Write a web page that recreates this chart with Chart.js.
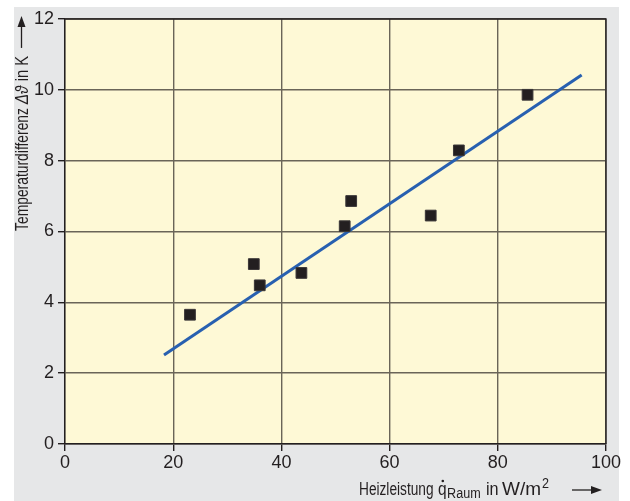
<!DOCTYPE html>
<html>
<head>
<meta charset="utf-8">
<script src="https://cdn.jsdelivr.net/npm/chart.js@4"></script>
<style>
  body { margin: 0; background: #ffffff; }
  canvas { display: block; }
</style>
</head>
<body>
<canvas id="myChart" width="630" height="501"></canvas>
<script>
// measured values (Heizleistung in W/m2, Temperaturdifferenz in K)
const heizleistung = [23.1, 34.9, 36.0, 43.7, 51.7, 52.9, 67.6, 72.8, 85.5]
const tempDiff = [3.65, 5.08, 4.48, 4.83, 6.15, 6.86, 6.45, 8.29, 9.86]

// regression line end points
const fitX = [18.3, 95.5]
const fitY = [2.51, 10.42]

const xTicks = [0, 20, 40, 60, 80, 100]
const yTicks = [0, 2, 4, 6, 8, 10, 12]

const FONT = '"Liberation Sans", Arial, sans-serif'
const TEXT = '#231f20'
const GRID = '#6a6558'

const arrow = (ctx, x1, y1, x2, y2) => {
  const ang = Math.atan2(y2 - y1, x2 - x1)
  const len = 11
  const w = 4
  ctx.beginPath()
  ctx.moveTo(x1, y1)
  ctx.lineTo(x2 - Math.cos(ang) * len, y2 - Math.sin(ang) * len)
  ctx.stroke()
  ctx.beginPath()
  ctx.moveTo(x2, y2)
  ctx.lineTo(x2 - Math.cos(ang) * len - Math.sin(ang) * w, y2 - Math.sin(ang) * len + Math.cos(ang) * w)
  ctx.lineTo(x2 - Math.cos(ang) * len + Math.sin(ang) * w, y2 - Math.sin(ang) * len - Math.cos(ang) * w)
  ctx.closePath()
  ctx.fill()
}

// draws horizontally squeezed text (fake condensed type), returns its drawn width
const text = (ctx, str, x, y, font, squeeze = 0.84) => {
  ctx.save()
  ctx.font = font
  ctx.translate(x, y)
  ctx.scale(squeeze, 1)
  ctx.fillText(str, 0, 0)
  const w = ctx.measureText(str).width * squeeze
  ctx.restore()
  return w
}

const backgrounds = {
  id: 'backgrounds',
  beforeDraw(chart) {
    const { ctx, chartArea } = chart
    ctx.save()
    ctx.fillStyle = '#ffffff'
    ctx.fillRect(0, 0, chart.width, chart.height)
    ctx.fillStyle = '#e6e7e8'
    ctx.fillRect(14, 7, 605, chart.height - 7)
    ctx.fillStyle = '#fef9d6'
    ctx.fillRect(chartArea.left, chartArea.top, chartArea.right - chartArea.left, chartArea.bottom - chartArea.top)
    ctx.restore()
  },
}

const titles = {
  id: 'titles',
  afterDatasetsDraw(chart) {
    const { ctx, chartArea } = chart
    ctx.save()
    ctx.fillStyle = TEXT
    ctx.strokeStyle = TEXT
    ctx.lineWidth = 1.3
    ctx.textBaseline = 'alphabetic'
    ctx.textAlign = 'left'

    // frame on top and right
    ctx.beginPath()
    ctx.moveTo(chartArea.left, chartArea.top)
    ctx.lineTo(chartArea.right, chartArea.top)
    ctx.lineTo(chartArea.right, chartArea.bottom)
    ctx.stroke()

    // x axis title, pieces placed where they sit in the original
    const base = 495
    const big = '18px ' + FONT
    const small = '14px ' + FONT
    text(ctx, 'Heizleistung', 359, base, big, 0.76)
    const qw = text(ctx, 'q', 438, base, big, 0.86)
    ctx.beginPath()
    ctx.arc(438 + qw / 2 + 0.5, base - 14, 1.3, 0, Math.PI * 2)
    ctx.fill()
    text(ctx, 'Raum', 438 + qw + 0.5, base + 3, small, 0.9)
    text(ctx, 'in', 486, base, big, 0.9)
    const wm = text(ctx, 'W/m', 502, base, '19px ' + FONT, 1)
    text(ctx, '2', 502 + wm + 1, base - 7, small, 0.9)
    arrow(ctx, 572, base - 5, 602, base - 5)

    // y axis title, reads bottom to top
    ctx.translate(28, 231)
    ctx.rotate(-Math.PI / 2)
    let y = 0
    y += text(ctx, 'Temperaturdifferenz ', y, 0, '18px ' + FONT, 0.77)
    y += text(ctx, '\u0394\u03d1', y, 0, 'italic 18px ' + FONT, 0.85)
    y += text(ctx, ' in K', y, 0, '18px ' + FONT, 0.82)
    arrow(ctx, y + 8, -6.5, 215, -6.5)
    ctx.restore()
  },
}

const ctx = document.getElementById('myChart').getContext('2d')

const config = {
  data: {
    datasets: [
      {
        type: 'scatter',
        data: heizleistung.map((v, i) => ({ x: v, y: tempDiff[i] })),
        pointStyle: 'rect',
        pointRadius: 7.6,
        backgroundColor: '#231f20',
        borderColor: '#3a3637',
        borderWidth: 1,
        order: 1,
      },
      {
        type: 'line',
        data: fitX.map((v, i) => ({ x: v, y: fitY[i] })),
        borderColor: '#2860b0',
        borderWidth: 3,
        pointRadius: 0,
        fill: false,
        order: 2,
      },
    ],
  },
  options: {
    responsive: false,
    animation: false,
    devicePixelRatio: 1,
    layout: { padding: { left: 0, top: 19, right: 24, bottom: 0 } },
    plugins: { legend: { display: false }, tooltip: { enabled: false } },
    scales: {
      x: {
        type: 'linear',
        min: 0,
        max: 100,
        afterBuildTicks: (s) => { s.ticks = xTicks.map((v) => ({ value: v })) },
        afterFit: (s) => { s.height = 57 },
        ticks: { font: { family: FONT, size: 18 }, color: TEXT, padding: 1, maxRotation: 0 },
        grid: { color: GRID, lineWidth: 1.4, tickLength: 7, tickColor: TEXT },
        border: { color: TEXT, width: 1.4 },
      },
      y: {
        type: 'linear',
        min: 0,
        max: 12,
        afterBuildTicks: (s) => { s.ticks = yTicks.map((v) => ({ value: v })) },
        afterFit: (s) => { s.width = 65 },
        ticks: { font: { family: FONT, size: 18 }, color: TEXT, padding: 4 },
        grid: { color: GRID, lineWidth: 1.4, tickLength: 7, tickColor: TEXT },
        border: { color: TEXT, width: 1.4 },
      },
    },
  },
  plugins: [backgrounds, titles],
}

new Chart(ctx, config)
</script>
</body>
</html>
